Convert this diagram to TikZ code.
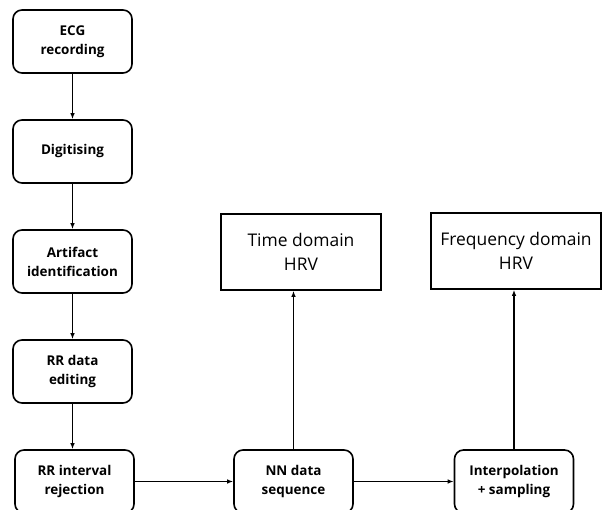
\documentclass[tikz,border=0pt]{standalone}
\usepackage{fontspec}
\setmainfont{Open Sans}
\usetikzlibrary{arrows.meta}

\tikzset{
  stepbox/.style={draw, line width=1.6bp, rounded corners=9bp, minimum width=119bp, minimum height=63bp, inner sep=2bp, align=center, font=\bfseries\fontsize{13.5}{19}\selectfont},
  hrvbox/.style={draw, line width=1.6bp, minimum height=76bp, inner sep=2bp, align=center, font=\fontsize{17.5}{24}\selectfont},
  flow/.style={-{Latex[length=6bp,width=4.5bp]}, line width=1.4bp}
}

\begin{document}
\begin{tikzpicture}[x=1bp,y=1bp]

\useasboundingbox (0,0) rectangle (604,510);

% left column
\node[stepbox] (ecg) at (72.5,468.5) {ECG\\recording};
\node[stepbox] (digit) at (72.5,358.5) {Digitising};
\node[stepbox] (artifact) at (72.5,248.5) {Artifact\\identification};
\node[stepbox] (rredit) at (72.5,138.5) {RR data\\editing};
\node[stepbox] (rrreject) at (74.5,28.5) {RR interval\\rejection};

% bottom row
\node[stepbox] (nnseq) at (293.5,28.5) {NN data\\sequence};
\node[stepbox] (interp) at (514,28.5) {Interpolation\\+ sampling};

% outputs
\node[hrvbox, minimum width=160bp] (timehrv) at (301,258) {Time domain\\HRV};
\node[hrvbox, minimum width=170bp] (freqhrv) at (516,259) {Frequency domain\\HRV};

\draw[flow] (ecg) -- (digit);
\draw[flow] (digit) -- (artifact);
\draw[flow] (artifact) -- (rredit);
\draw[flow] (rredit.south) -- (rredit.south |- rrreject.north);
\draw[flow] (rrreject) -- (nnseq);
\draw[flow] (nnseq) -- (interp);
\draw[flow] (nnseq.north) -- (nnseq.north |- timehrv.south);
\draw[flow] (interp.north) -- (interp.north |- freqhrv.south);

\end{tikzpicture}
\end{document}
